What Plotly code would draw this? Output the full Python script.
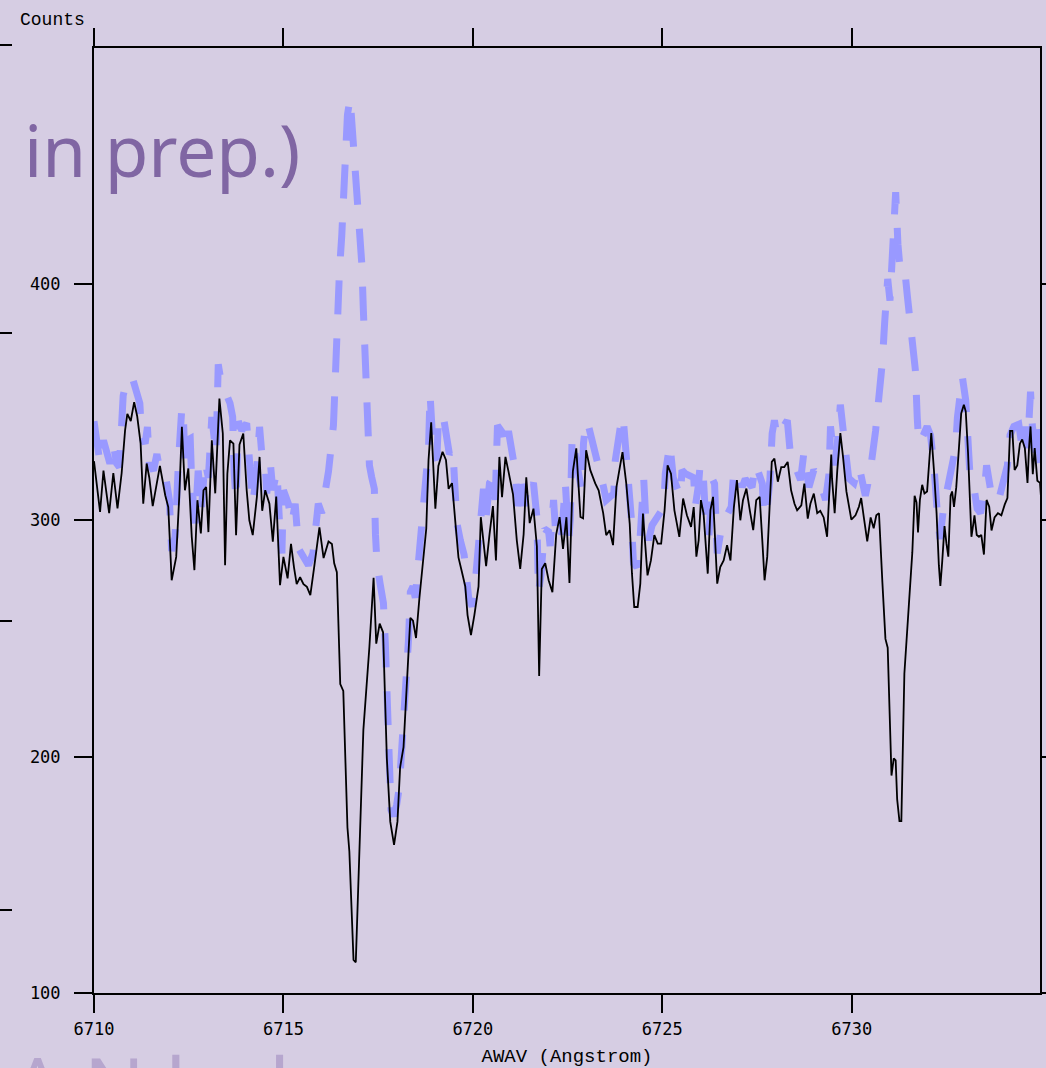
import plotly.graph_objects as go

# Observed spectrum (black solid)
obs_wave = [6710.00, 6710.16, 6710.25, 6710.40, 6710.51, 6710.62, 6710.73, 6710.82, 6710.88, 6710.97,
            6711.06, 6711.14, 6711.23, 6711.30, 6711.39, 6711.46, 6711.55, 6711.66, 6711.74, 6711.88,
            6711.96, 6712.05, 6712.17, 6712.25, 6712.32, 6712.40, 6712.49, 6712.58, 6712.65, 6712.73,
            6712.82, 6712.89, 6712.96, 6713.02, 6713.11, 6713.20, 6713.31, 6713.40, 6713.46, 6713.52,
            6713.59, 6713.68, 6713.75, 6713.84, 6713.94, 6714.03, 6714.10, 6714.19, 6714.30, 6714.37,
            6714.44, 6714.52, 6714.63, 6714.72, 6714.81, 6714.91, 6715.00, 6715.11, 6715.20, 6715.28,
            6715.35, 6715.44, 6715.53, 6715.62, 6715.71, 6715.81, 6715.95, 6716.06, 6716.19, 6716.28,
            6716.34, 6716.41, 6716.50, 6716.58, 6716.69, 6716.74, 6716.85, 6716.91, 6716.98, 6717.11,
            6717.27, 6717.38, 6717.45, 6717.54, 6717.63, 6717.73, 6717.82, 6717.92, 6718.01, 6718.08,
            6718.17, 6718.26, 6718.35, 6718.42, 6718.50, 6718.59, 6718.68, 6718.77, 6718.83, 6718.90,
            6719.01, 6719.09, 6719.20, 6719.29, 6719.36, 6719.45, 6719.54, 6719.62, 6719.71, 6719.80,
            6719.86, 6719.95, 6720.04, 6720.15, 6720.21, 6720.28, 6720.35, 6720.44, 6720.53, 6720.61,
            6720.70, 6720.77, 6720.86, 6720.94, 6721.06, 6721.16, 6721.25, 6721.34, 6721.41, 6721.50,
            6721.60, 6721.69, 6721.75, 6721.82, 6721.91, 6722.00, 6722.10, 6722.20, 6722.29, 6722.38,
            6722.47, 6722.55, 6722.64, 6722.73, 6722.77, 6722.84, 6722.91, 6722.99, 6723.10, 6723.23,
            6723.32, 6723.44, 6723.52, 6723.61, 6723.70, 6723.79, 6723.88, 6723.95, 6724.05, 6724.14,
            6724.20, 6724.26, 6724.35, 6724.42, 6724.49, 6724.55, 6724.61, 6724.70, 6724.79, 6724.88,
            6724.97, 6725.06, 6725.14, 6725.23, 6725.32, 6725.45, 6725.55, 6725.65, 6725.76, 6725.83,
            6725.90, 6725.96, 6726.02, 6726.09, 6726.20, 6726.27, 6726.34, 6726.45, 6726.53, 6726.62,
            6726.71, 6726.80, 6726.89, 6726.97, 6727.06, 6727.13, 6727.22, 6727.31, 6727.40, 6727.48,
            6727.57, 6727.64, 6727.70, 6727.77, 6727.84, 6727.89, 6727.96, 6728.05, 6728.14, 6728.22,
            6728.31, 6728.40, 6728.49, 6728.56, 6728.67, 6728.75, 6728.84, 6728.91, 6729.00, 6729.09,
            6729.17, 6729.26, 6729.35, 6729.39, 6729.46, 6729.48, 6729.55, 6729.62, 6729.70, 6729.77,
            6729.86, 6729.99, 6730.10, 6730.19, 6730.25, 6730.32, 6730.41, 6730.50, 6730.58, 6730.65,
            6730.72, 6730.81, 6730.89, 6730.95, 6731.01, 6731.05, 6731.11, 6731.16, 6731.20, 6731.26,
            6731.31, 6731.39, 6731.51, 6731.60, 6731.66, 6731.71, 6731.75, 6731.80, 6731.86, 6731.92,
            6731.99, 6732.06, 6732.10, 6732.17, 6732.24, 6732.30, 6732.34, 6732.39, 6732.45, 6732.50,
            6732.55, 6732.61, 6732.65, 6732.70, 6732.76, 6732.83, 6732.89, 6732.96, 6733.01, 6733.07,
            6733.12, 6733.16, 6733.21, 6733.24, 6733.30, 6733.36, 6733.42, 6733.49, 6733.56, 6733.63,
            6733.69, 6733.77, 6733.86, 6733.95, 6734.04, 6734.11, 6734.18, 6734.24, 6734.30, 6734.37,
            6734.44, 6734.50, 6734.57, 6734.64, 6734.68, 6734.72, 6734.78, 6734.83, 6734.90, 6734.97,
            6735.04]
obs_counts = [325, 303.5, 321, 303, 320, 305, 320, 338, 345, 342,
              350, 344, 332.5, 307, 324, 318, 306, 317, 323, 310.6,
              305.6, 274.6, 284.5, 309.9, 339.5, 312.7, 321.9, 293, 278.9, 308.5,
              294.4, 312.7, 314, 295, 333.8, 311.4, 351.5, 336.7, 281, 319.7,
              333.8, 332.4, 293.7, 332, 336.7, 312.7, 300, 293.7, 310, 326.8,
              304, 312.7, 307, 290.9, 310, 272.5, 284.5, 275.4, 290, 280,
              273, 275.9, 273, 271.8, 268.3, 280, 297, 284, 291, 290,
              281.8, 278, 230.7, 227.8, 170, 160, 114, 113, 150.5, 211.3,
              246.6, 275.7, 247.8, 256.3, 252.6, 199.2, 172.5, 162.7, 172.5, 195.5,
              204, 233.2, 258.7, 257.5, 250.2, 267.2, 283, 296.4, 325.5, 341.4,
              304.9, 323, 329, 325.5, 313.3, 315.7, 298.8, 284.3, 278.2, 272,
              259.9, 251.4, 259.9, 272, 301.3, 291.5, 280.6, 294, 306, 283,
              326.8, 309.8, 326.8, 320.7, 311, 291.5, 279.4, 294, 318.2, 298.8,
              304.9, 289, 234.1, 279.4, 281.8, 274.6, 269.6, 294, 301.3, 287.9,
              301.3, 273.5, 320.7, 330.4, 319.7, 301.4, 300.8, 329.6, 321.2, 315.6,
              312.7, 303, 293.7, 295.8, 289.5, 314, 322.5, 328.8, 315.5, 298.6,
              277.4, 263.3, 263.3, 273.2, 302.8, 288.7, 276.7, 283, 293.7, 290.1,
              290.1, 304.2, 323.2, 319.7, 304.2, 293, 309.2, 302.1, 297.2, 305.6,
              284.6, 291.5, 308.5, 302.8, 277.4, 304.2, 309.9, 273.2, 280.2, 283,
              289.5, 283, 305.6, 317, 300, 308.5, 313.4, 304.2, 295.8, 308.5,
              309.9, 291.5, 274.6, 284.5, 308.5, 324.7, 326.1, 316.3, 322.5, 322.5,
              324.7, 312.7, 307, 304.2, 306.3, 315.5, 300.7, 307, 311.3, 303,
              304, 301.2, 293, 304.9, 327.8, 317.8, 303, 321.3, 336.9, 326.9,
              312.2, 300.3, 302.1, 305.7, 309.4, 301.2, 291.1, 301.2, 296.6, 302.1,
              303, 273.6, 249.8, 246.1, 218.6, 192, 199.3, 198.4, 181.9, 172.7,
              172.7, 235.1, 264.5, 286.5, 310.4, 307.6, 294.8, 308.6, 315, 311.3,
              312.2, 326.9, 336.9, 321.3, 303, 281, 272.2, 282.8, 297.5, 290.2,
              284.6, 310.4, 312.2, 305.7, 314, 330.5, 345.2, 348.9, 346.1, 328.7,
              308.6, 293, 298.5, 302.1, 293.8, 293, 293.8, 285.5, 308.6, 305.7,
              295.7, 301.2, 303, 302.1, 306.7, 309.4, 337.8, 337.8, 321.3, 323.2,
              332.4, 334.2, 330.5, 315.8, 330.5, 339.7, 319.5, 330.5, 316.7, 315.8,
              300]

# Model / comparison spectrum (dashed)
mod_wave = [6710.00, 6710.07, 6710.16, 6710.25, 6710.34, 6710.42, 6710.51, 6710.60, 6710.67, 6710.73,
            6710.77, 6710.86, 6711.00, 6711.21, 6711.26, 6711.35, 6711.41, 6711.46, 6711.57, 6711.66,
            6711.74, 6711.88, 6711.99, 6712.05, 6712.14, 6712.23, 6712.32, 6712.36, 6712.40, 6712.45,
            6712.54, 6712.58, 6712.67, 6712.75, 6712.84, 6712.93, 6713.02, 6713.11, 6713.17, 6713.22,
            6713.28, 6713.35, 6713.59, 6713.66, 6713.70, 6713.75, 6713.81, 6713.90, 6714.03, 6714.10,
            6714.19, 6714.28, 6714.37, 6714.43, 6714.52, 6714.56, 6714.65, 6714.72, 6714.83, 6714.91,
            6714.96, 6715.00, 6715.13, 6715.22, 6715.31, 6715.40, 6715.53, 6715.66, 6715.78, 6715.92,
            6716.01, 6716.15, 6716.19, 6716.32, 6716.37, 6716.43, 6716.48, 6716.54, 6716.58, 6716.64,
            6716.69, 6716.76, 6716.85, 6716.94, 6717.01, 6717.07, 6717.11, 6717.14, 6717.18, 6717.22,
            6717.27, 6717.33, 6717.40, 6717.43, 6717.47, 6717.55, 6717.64, 6717.69, 6717.73, 6717.77,
            6717.80, 6717.84, 6717.91, 6717.99, 6718.06, 6718.13, 6718.21, 6718.26, 6718.30, 6718.35,
            6718.42, 6718.48, 6718.57, 6718.66, 6718.77, 6718.83, 6718.87, 6718.92, 6718.96, 6719.05,
            6719.09, 6719.21, 6719.30, 6719.38, 6719.47, 6719.51, 6719.58, 6719.67, 6719.77, 6719.89,
            6719.98, 6720.04, 6720.15, 6720.20, 6720.28, 6720.35, 6720.44, 6720.53, 6720.59, 6720.65,
            6720.72, 6720.81, 6720.86, 6720.94, 6721.12, 6721.18, 6721.30, 6721.36, 6721.44, 6721.53,
            6721.60, 6721.69, 6721.73, 6721.80, 6721.89, 6722.00, 6722.04, 6722.13, 6722.18, 6722.26,
            6722.35, 6722.44, 6722.53, 6722.57, 6722.62, 6722.71, 6722.78, 6722.87, 6722.92, 6722.99,
            6723.06, 6723.35, 6723.45, 6723.52, 6723.72, 6723.76, 6723.94, 6723.98, 6724.03, 6724.11,
            6724.18, 6724.24, 6724.33, 6724.40, 6724.47, 6724.51, 6724.58, 6724.64, 6724.73, 6725.04,
            6725.08, 6725.20, 6725.29, 6725.48, 6725.52, 6725.61, 6725.83, 6725.87, 6725.96, 6726.00,
            6726.08, 6726.14, 6726.23, 6726.32, 6726.38, 6726.40, 6726.45, 6726.58, 6726.82, 6726.88,
            6727.02, 6727.11, 6727.19, 6727.37, 6727.46, 6727.64, 6727.68, 6727.77, 6727.84, 6727.90,
            6727.96, 6728.03, 6728.30, 6728.38, 6728.65, 6728.74, 6728.87, 6729.00, 6729.13, 6729.31,
            6729.40, 6729.44, 6729.48, 6729.55, 6729.62, 6729.70, 6729.79, 6729.92, 6730.06, 6730.19,
            6730.36, 6730.48, 6730.63, 6730.72, 6730.81, 6730.87, 6730.92, 6730.95, 6731.01, 6731.04,
            6731.08, 6731.11, 6731.16, 6731.22, 6731.27, 6731.33, 6731.39, 6731.47, 6731.57, 6731.68,
            6731.73, 6731.77, 6731.89, 6731.99, 6732.08, 6732.17, 6732.26, 6732.33, 6732.42, 6732.50,
            6732.61, 6732.74, 6732.79, 6732.92, 6733.01, 6733.05, 6733.12, 6733.21, 6733.31, 6733.40,
            6733.49, 6733.56, 6733.64, 6733.71, 6733.88, 6734.11, 6734.18, 6734.28, 6734.41, 6734.50,
            6734.59, 6734.64, 6734.72, 6734.77, 6734.86, 6734.92, 6735.00]
mod_counts = [341.9, 331, 324, 333.8, 328, 324, 332, 324, 322.5, 336,
              352.7, 359, 361, 349.5, 335, 332.5, 339.5, 324, 321, 328,
              321, 319.8, 308.5, 287, 293, 325, 348, 343.7, 325, 333.8,
              334.6, 315.6, 298.7, 321, 305.6, 325, 318, 343.7, 333.8, 328,
              366, 359, 349.5, 343.7, 319.8, 308.5, 341.9, 338, 341, 326.8,
              307, 318, 339.5, 328, 324, 311.4, 325, 312.7, 321, 294.4,
              286, 312.7, 307, 298.7, 307, 288, 284.5, 281, 286, 307,
              303, 315.6, 320.7, 340.1, 364.4, 383.9, 405.8, 420.5, 440, 452,
              471.5, 478.7, 456.8, 442.3, 422.8, 408.2, 388.8, 374.2, 357.2, 342.7,
              323.2, 318.2, 313.3, 293.8, 281.8, 273.3, 264.9, 247.8, 228.3, 208.9,
              195.5, 177.4, 174.8, 179.7, 187.1, 204, 216.3, 235.7, 249, 269.6,
              272, 267.2, 284.2, 298.8, 315.8, 330.4, 353.5, 342.6, 328, 325.5,
              342.6, 345, 337.7, 328, 330.4, 318.2, 298.8, 291.5, 285.4, 267.2,
              263.5, 269.6, 291.5, 302.5, 313.3, 301.3, 315.8, 318.2, 308.6, 340.1,
              338.9, 336.5, 330.4, 337.7, 320.7, 306, 318.2, 306, 315.8, 313.3,
              315.8, 301.3, 269.6, 276.9, 296.4, 295.2, 289.1, 308.6, 296.4, 300,
              294, 315.8, 291.5, 300, 335.3, 328, 320, 312.7, 332.5, 342.3,
              339.5, 322.5, 314, 308.5, 311.3, 325.4, 344.4, 341, 332.4, 314,
              301.4, 281.7, 280.2, 288.7, 307, 317.5, 295.8, 291.5, 297.9, 305.6,
              319.7, 332.4, 318, 309.9, 321.2, 319.7, 318, 305.6, 315.5, 324,
              319.7, 301.4, 293, 317.5, 315.5, 305.6, 286, 298.6, 305.6, 319.7,
              321, 314, 317.5, 314, 324, 315.5, 301.4, 305.6, 317, 336.7,
              342.3, 335.2, 342.3, 328.2, 317, 328.9, 314, 321.3, 318, 308.6,
              319.5, 339.7, 330.5, 323.2, 332.4, 348.9, 336, 317.8, 315.8, 323.2,
              310.4, 319.5, 337.8, 351.6, 367.2, 383.7, 400.3, 402.1, 392.9, 403.9,
              409.5, 429.6, 438.8, 416.8, 407.6, 406.7, 407.6, 394.7, 376.4, 363.6,
              343.4, 332.4, 336, 339.7, 336, 323.2, 303, 292, 304.9, 312.2,
              321.3, 330.5, 343.4, 360.8, 350.7, 334.2, 319.5, 315.8, 304.9, 303,
              310.4, 323.2, 315.8, 308.6, 308.6, 323.2, 336, 339.7, 340.6, 330.5,
              339.7, 330.5, 354.4, 339.7, 328.7, 339.7, 317.8]

x_ticks = [6710, 6715, 6720, 6725, 6730]
y_ticks = [100, 200, 300, 400]

BG = "rgb(214,205,227)"

fig = go.Figure()
fig.add_trace(go.Scatter(x=mod_wave, y=mod_counts, mode="lines",
                         line=dict(color="rgb(153,153,255)", width=7, dash="34px,24px"),
                         showlegend=False, hoverinfo="skip"))
fig.add_trace(go.Scatter(x=obs_wave, y=obs_counts, mode="lines",
                         line=dict(color="black", width=1.8),
                         showlegend=False, hoverinfo="skip"))

# plot area: x 94..1040, y 48..993 in a 1046x1068 page
L, R, T, B = 94, 1040, 48, 993
W, H = R - L, B - T

def px(x):
    return (x - L) / W

def py(y):
    return (B - y) / H

fig.update_layout(
    width=1046, height=1068,
    margin=dict(l=L, r=1046 - R, t=T, b=1068 - B, autoexpand=False),
    paper_bgcolor=BG, plot_bgcolor=BG,
    xaxis=dict(range=[6710, 6734.97], tickvals=x_ticks, ticktext=[str(v) for v in x_ticks],
               automargin=False,
               showgrid=False, zeroline=False, showline=True, linecolor="black", linewidth=2,
               mirror="ticks", ticks="outside", ticklen=18, tickwidth=2, tickcolor="black",
               ticklabelstandoff=2,
               tickfont=dict(family="DejaVu Sans Mono", size=17, color="black"),
               title=dict(text="AWAV (Angstrom)", standoff=12,
                          font=dict(family="Liberation Mono", size=19, color="black"))),
    yaxis=dict(range=[100, 499.8], tickvals=y_ticks, ticktext=[str(v) for v in y_ticks],
               automargin=False,
               showgrid=False, zeroline=False, showline=True, linecolor="black", linewidth=2,
               mirror="ticks", ticks="outside", ticklen=18, tickwidth=2, tickcolor="black",
               ticklabelstandoff=10,
               tickfont=dict(family="DejaVu Sans Mono", size=17, color="black")),
    annotations=[
        dict(text="Counts", xref="paper", yref="paper", x=px(52), y=py(20),
             xanchor="center", yanchor="middle", showarrow=False,
             font=dict(family="Liberation Mono", size=18, color="black")),
        dict(text="in prep.)", xref="paper", yref="paper", x=px(302), y=py(150),
             xanchor="right", yanchor="middle", showarrow=False,
             font=dict(family="Comic Sans MS, Noto Sans", size=71, color="rgb(128,102,163)")),
        dict(text="A N l    l", xref="paper", yref="paper", x=px(10), y=py(1028),
             xanchor="left", yanchor="top", showarrow=False,
             font=dict(family="Noto Sans", size=80, color="rgb(182,166,206)")),
    ],
    shapes=[dict(type="line", xref="paper", yref="paper", x0=px(0), x1=px(12), y0=py(v), y1=py(v),
                 line=dict(color="black", width=2)) for v in (45, 333, 621, 910)],
)

fig.write_html("out.html")
